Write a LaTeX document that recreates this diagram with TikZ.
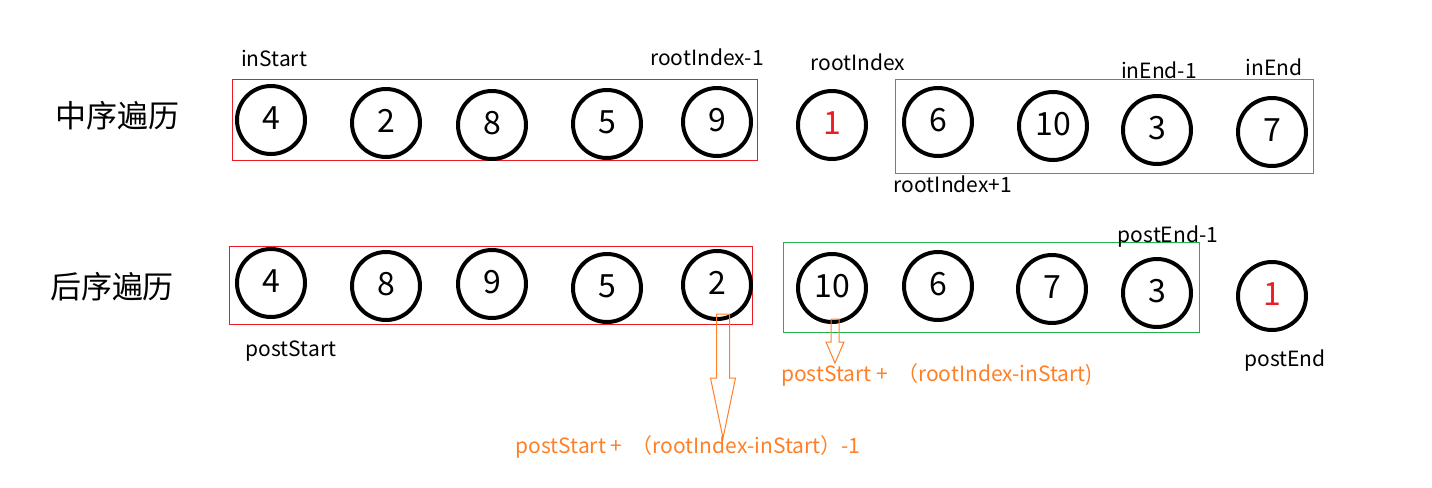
\documentclass[tikz,border=0pt]{standalone}
\usepackage{fontspec}
\setmainfont{Noto Sans CJK SC}
\usetikzlibrary{arrows}
\definecolor{boxred}{RGB}{237,28,36}
\definecolor{boxgreen}{RGB}{34,177,76}
\definecolor{notecol}{RGB}{255,127,39}
\tikzset{
    %Define style for the element circles
    elem/.style={
           circle,
           draw=black, line width=2pt,
           minimum size=34pt, inner sep=0pt,
           text height=0.95em, text depth=0pt,
           font=\fontsize{16}{16}\selectfont,
           text centered},
    rootelem/.style={
           elem,
           text=boxred},
    %Define style for the index labels
    idx/.style={
           inner sep=0pt,
           font=\fontsize{10.5}{12}\selectfont},
    heading/.style={
           inner sep=0pt,
           font=\fontsize{15.5}{18}\selectfont},
    note/.style={
           idx,
           text=notecol},
    % Define box and arrow styles
    redbox/.style={draw=boxred, line width=0.7pt},
    greenbox/.style={draw=boxgreen, line width=0.7pt},
    hollow/.style={draw=notecol, line width=0.5pt, line join=miter}
}
% hollow down arrow: start, shaft half width, head half width, head length, length
\newcommand{\blockarrow}[5]{%
  \draw[hollow] (#1) ++(-#2,0) -- ++(0,#5-#4) -- ++(#2-#3,0) -- ++(#3,#4)
    -- ++(#3,-#4) -- ++(#2-#3,0) -- ++(0,#4-#5) -- cycle;}

\begin{document}
\begin{tikzpicture}[x=0.5pt,y=-0.5pt]
\useasboundingbox (0,0) rectangle (1432,488);
 %groups
\draw[redbox] (232.5,79.5) rectangle (757.5,160.5);
\draw[greenbox] (895.5,79.5) rectangle (1313.5,173.5);
\draw[redbox] (229.5,246.5) rectangle (752.5,324.5);
\draw[greenbox] (783.5,242.5) rectangle (1199.5,332.5);
 %in-order row
\node[heading] (h1) at (117,116) {中序遍历};
\node[elem] (a1) at (271,120) {4};
\node[elem] (a2) at (386,123) {2};
\node[elem] (a3) at (492,125) {8};
\node[elem] (a4) at (607,124) {5};
\node[elem] (a5) at (717,122) {9};
\node[rootelem] (a6) at (832,125) {1};
\node[elem] (a7) at (938,122) {6};
\node[elem] (a8) at (1053,126) {10};
\node[elem] (a9) at (1157,130) {3};
\node[elem] (a10) at (1272,132) {7};
\node[idx] (l1) at (274,58) {inStart};
\node[idx] (l2) at (707,57) {rootIndex-1};
\node[idx] (l3) at (858,62) {rootIndex};
\node[idx] (l4) at (953,184) {rootIndex+1};
\node[idx] (l5) at (1159,70) {inEnd-1};
\node[idx] (l6) at (1274,67) {inEnd};
 %post-order row
\node[heading] (h2) at (112,287) {后序遍历};
\node[elem] (b1) at (271,283) {4};
\node[elem] (b2) at (386,286) {8};
\node[elem] (b3) at (492,284) {9};
\node[elem] (b4) at (607,288) {5};
\node[elem] (b5) at (717,285) {2};
\node[elem] (b6) at (832,288) {10};
\node[elem] (b7) at (938,286) {6};
\node[elem] (b8) at (1052,289) {7};
\node[elem] (b9) at (1157,293) {3};
\node[rootelem] (b10) at (1272,296) {1};
\node[idx] (m1) at (291,351) {postStart};
\node[idx] (m2) at (1168,237) {postEnd-1};
\node[idx] (m3) at (1285,361) {postEnd};
 %notes
\node[note] (n1) at (688,447) {postStart +\ \ （rootIndex-inStart）-1};
\node[note] (n2) at (937,375) {postStart +\ \ （rootIndex-inStart)};
\coordinate (s1) at (723,314);
\coordinate (s2) at (835,319);
\blockarrow{s1}{6.5}{12.5}{60}{124}
\blockarrow{s2}{4}{9}{21}{44}
\end{tikzpicture}
\end{document}
